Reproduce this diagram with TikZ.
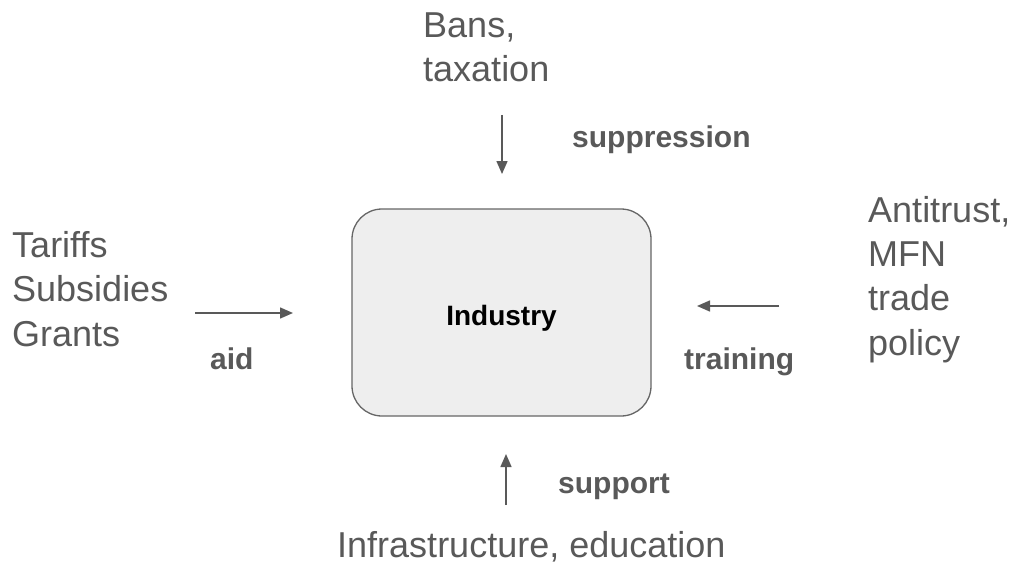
\documentclass[tikz,border=0pt]{standalone}
\usepackage{fontspec}
\setmainfont{Liberation Sans}
\usetikzlibrary{arrows.meta}
\definecolor{txtgray}{HTML}{595959}
\definecolor{linegray}{HTML}{666666}
\definecolor{boxfill}{HTML}{EEEEEE}
\begin{document}
\begin{tikzpicture}[x=1pt,y=-1pt,
  bigtext/.style={inner sep=0pt, text=txtgray, font=\fontsize{36}{44.3}\selectfont, align=left},
  tag/.style={inner sep=0pt, text=txtgray, font=\fontsize{30}{34}\selectfont\bfseries},
  flow/.style={draw=txtgray, line width=1.5pt, -{Triangle[length=13pt,width=11pt]}},
  core/.style={draw=linegray, fill=boxfill, line width=1.3pt, rounded corners=30pt}]
  \useasboundingbox (0,0) rectangle (1019,567);

  % central block
  \draw[core] (352,209) rectangle (651,416);
  \node[inner sep=0pt, font=\fontsize{28}{32}\selectfont\bfseries, anchor=base] (ind) at (501.5,325) {Industry};

  % surrounding policy texts (anchored at the baseline of their last line)
  \node[bigtext, anchor=base west] (top) at (423,82) {Bans,\\taxation};
  \node[bigtext, anchor=base west] (left) at (12,346) {Tariffs\\Subsidies\\Grants};
  \node[bigtext, anchor=base west] (right) at (868,355) {Antitrust,\\MFN\\trade\\policy};
  \node[bigtext, anchor=base west] (bottom) at (337,557) {Infrastructure, education};

  % labels on the arrows
  \node[tag, anchor=base west] (supp) at (572,147) {suppression};
  \node[tag, anchor=base west] (aid) at (210,369) {aid};
  \node[tag, anchor=base west] (train) at (684,369) {training};
  \node[tag, anchor=base west] (sup) at (558,493) {support};

  % arrow end points
  \coordinate (t1) at (502,115);  \coordinate (t2) at (502,174);
  \coordinate (l1) at (195,313);  \coordinate (l2) at (293,313);
  \coordinate (r1) at (779,306);  \coordinate (r2) at (697,306);
  \coordinate (b1) at (506,505);  \coordinate (b2) at (506,454);

  \draw[flow] (t1) -- (t2);
  \draw[flow] (l1) -- (l2);
  \draw[flow] (r1) -- (r2);
  \draw[flow] (b1) -- (b2);
\end{tikzpicture}
\end{document}
